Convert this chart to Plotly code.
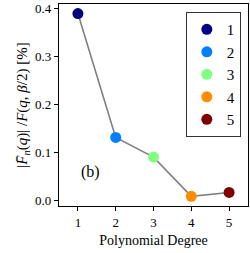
import plotly.graph_objects as go

degrees = [1, 2, 3, 4, 5]
values = [0.390, 0.131, 0.090, 0.008, 0.016]
labels = ["1", "2", "3", "4", "5"]
colors = ["#000080", "#0080ff", "#80ff80", "#ff8c00", "#800000"]
yticks = [0.0, 0.1, 0.2, 0.3, 0.4]

FONT = "Liberation Serif"

fig = go.Figure()
fig.add_trace(go.Scatter(x=degrees, y=values, mode="lines",
                         line=dict(color="#808080", width=1.6), showlegend=False,
                         hoverinfo="skip"))
for d, v, lab, c in zip(degrees, values, labels, colors):
    fig.add_trace(go.Scatter(x=[d], y=[v], mode="markers", name=lab,
                             marker=dict(color=c, size=11, line=dict(width=0))))

fig.add_annotation(x=0.105, y=0.112, xref="paper", yref="paper", text="(b)",
                   showarrow=False, font=dict(family=FONT, size=16, color="black"))

fig.update_layout(
    width=250, height=253,
    margin=dict(l=59, r=1, t=1, b=47),
    paper_bgcolor="white", plot_bgcolor="white",
    font=dict(family=FONT, size=13, color="black"),
    showlegend=True,
    legend=dict(x=0.962, y=0.96, xanchor="right", yanchor="top",
                bordercolor="#333", borderwidth=1, bgcolor="white",
                font=dict(family=FONT, size=15), itemwidth=30,
                tracegroupgap=0, traceorder="normal"),
    xaxis=dict(range=[0.5, 5.5], tickvals=degrees, ticktext=labels,
               showgrid=False, zeroline=False, showline=True, linecolor="black",
               linewidth=1.3, mirror=True, ticks="outside", ticklen=4,
               tickcolor="black", tickfont=dict(size=13),
               title=dict(text="Polynomial Degree", font=dict(size=14), standoff=6)),
    yaxis=dict(range=[-0.0123, 0.41], tickvals=yticks,
               ticktext=[f"{t:.1f}" for t in yticks],
               showgrid=False, zeroline=False, showline=True, linecolor="black",
               linewidth=1.3, mirror=True, ticks="outside", ticklen=4,
               tickcolor="black", tickfont=dict(size=13), ticklabeloverflow="allow",
               title=dict(text="|<i>F\u0304</i><sub><i>n</i></sub>(<i>q</i>)| /<i>F</i>(<i>q</i>, <i>\u03b2</i>/2) [%]",
                          font=dict(size=15), standoff=3)),
)

fig.write_html("out.html", config={"displayModeBar": False},
               post_script="document.body.style.margin='0';document.body.style.overflow='hidden';")
